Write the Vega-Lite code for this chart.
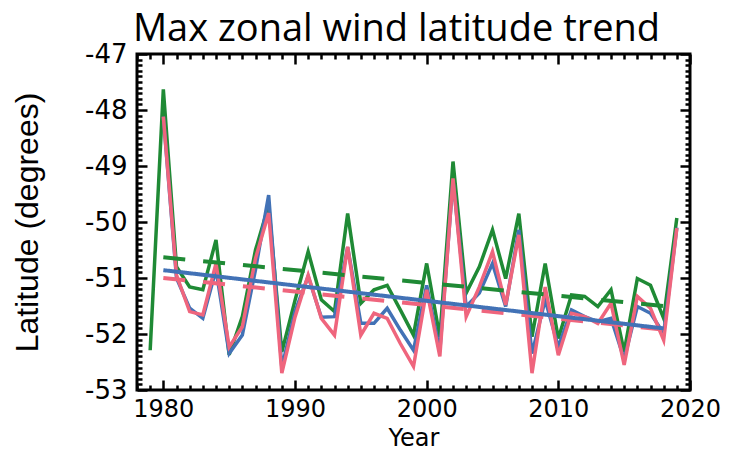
{
  "$schema": "https://vega.github.io/schema/vega-lite/v6.json",
  "width": 553,
  "height": 336,
  "autosize": {"type": "none"},
  "padding": {"left": 137, "top": 54, "right": 45, "bottom": 60},
  "background": "white",
  "title": {"text": "Max zonal wind latitude trend", "font": "Open Sans", "fontSize": 38, "fontWeight": "normal", "color": "black", "dx": -17, "offset": -8},
  "config": {
    "view": {"stroke": "black", "strokeWidth": 3},
    "axis": {"domain": false, "grid": false, "tickColor": "black", "tickWidth": 2.5, "labelColor": "black", "titleColor": "black", "labelOverlap": false, "labelFlush": false}
  },
  "datasets": {
    "lines": [
      {"year": 1979, "lat": -52.29, "series": "S1"},
      {"year": 1980, "lat": -47.63, "series": "S1"},
      {"year": 1981, "lat": -50.8, "series": "S1"},
      {"year": 1982, "lat": -51.16, "series": "S1"},
      {"year": 1983, "lat": -51.21, "series": "S1"},
      {"year": 1984, "lat": -50.32, "series": "S1"},
      {"year": 1985, "lat": -52.37, "series": "S1"},
      {"year": 1986, "lat": -51.69, "series": "S1"},
      {"year": 1987, "lat": -50.5, "series": "S1"},
      {"year": 1988, "lat": -49.7, "series": "S1"},
      {"year": 1989, "lat": -52.32, "series": "S1"},
      {"year": 1990, "lat": -51.4, "series": "S1"},
      {"year": 1991, "lat": -50.53, "series": "S1"},
      {"year": 1992, "lat": -51.39, "series": "S1"},
      {"year": 1993, "lat": -51.6, "series": "S1"},
      {"year": 1994, "lat": -49.85, "series": "S1"},
      {"year": 1995, "lat": -51.45, "series": "S1"},
      {"year": 1996, "lat": -51.21, "series": "S1"},
      {"year": 1997, "lat": -51.13, "series": "S1"},
      {"year": 1998, "lat": -51.57, "series": "S1"},
      {"year": 1999, "lat": -52.02, "series": "S1"},
      {"year": 2000, "lat": -50.74, "series": "S1"},
      {"year": 2001, "lat": -52.05, "series": "S1"},
      {"year": 2002, "lat": -48.92, "series": "S1"},
      {"year": 2003, "lat": -51.27, "series": "S1"},
      {"year": 2004, "lat": -50.8, "series": "S1"},
      {"year": 2005, "lat": -50.14, "series": "S1"},
      {"year": 2006, "lat": -51.01, "series": "S1"},
      {"year": 2007, "lat": -49.85, "series": "S1"},
      {"year": 2008, "lat": -52.05, "series": "S1"},
      {"year": 2009, "lat": -50.74, "series": "S1"},
      {"year": 2010, "lat": -52.08, "series": "S1"},
      {"year": 2011, "lat": -51.3, "series": "S1"},
      {"year": 2012, "lat": -51.33, "series": "S1"},
      {"year": 2013, "lat": -51.51, "series": "S1"},
      {"year": 2014, "lat": -51.21, "series": "S1"},
      {"year": 2015, "lat": -52.32, "series": "S1"},
      {"year": 2016, "lat": -51.01, "series": "S1"},
      {"year": 2017, "lat": -51.13, "series": "S1"},
      {"year": 2018, "lat": -51.72, "series": "S1"},
      {"year": 2019, "lat": -49.93, "series": "S1"},

      {"year": 1980, "lat": -48.12, "series": "S2"},
      {"year": 1981, "lat": -51.0, "series": "S2"},
      {"year": 1982, "lat": -51.54, "series": "S2"},
      {"year": 1983, "lat": -51.72, "series": "S2"},
      {"year": 1984, "lat": -50.85, "series": "S2"},
      {"year": 1985, "lat": -52.35, "series": "S2"},
      {"year": 1986, "lat": -52.02, "series": "S2"},
      {"year": 1987, "lat": -50.85, "series": "S2"},
      {"year": 1988, "lat": -49.52, "series": "S2"},
      {"year": 1989, "lat": -52.6, "series": "S2"},
      {"year": 1990, "lat": -51.6, "series": "S2"},
      {"year": 1991, "lat": -50.97, "series": "S2"},
      {"year": 1992, "lat": -51.7, "series": "S2"},
      {"year": 1993, "lat": -51.69, "series": "S2"},
      {"year": 1994, "lat": -50.45, "series": "S2"},
      {"year": 1995, "lat": -51.81, "series": "S2"},
      {"year": 1996, "lat": -51.81, "series": "S2"},
      {"year": 1997, "lat": -51.54, "series": "S2"},
      {"year": 1998, "lat": -51.93, "series": "S2"},
      {"year": 1999, "lat": -52.29, "series": "S2"},
      {"year": 2000, "lat": -51.13, "series": "S2"},
      {"year": 2001, "lat": -52.3, "series": "S2"},
      {"year": 2002, "lat": -49.25, "series": "S2"},
      {"year": 2003, "lat": -51.51, "series": "S2"},
      {"year": 2004, "lat": -51.27, "series": "S2"},
      {"year": 2005, "lat": -50.74, "series": "S2"},
      {"year": 2006, "lat": -51.51, "series": "S2"},
      {"year": 2007, "lat": -50.14, "series": "S2"},
      {"year": 2008, "lat": -52.35, "series": "S2"},
      {"year": 2009, "lat": -51.39, "series": "S2"},
      {"year": 2010, "lat": -52.23, "series": "S2"},
      {"year": 2011, "lat": -51.57, "series": "S2"},
      {"year": 2012, "lat": -51.69, "series": "S2"},
      {"year": 2013, "lat": -51.78, "series": "S2"},
      {"year": 2014, "lat": -51.72, "series": "S2"},
      {"year": 2015, "lat": -52.45, "series": "S2"},
      {"year": 2016, "lat": -51.51, "series": "S2"},
      {"year": 2017, "lat": -51.63, "series": "S2"},
      {"year": 2018, "lat": -51.99, "series": "S2"},
      {"year": 2019, "lat": -50.1, "series": "S2"},

      {"year": 1980, "lat": -48.12, "series": "S3"},
      {"year": 1981, "lat": -50.95, "series": "S3"},
      {"year": 1982, "lat": -51.6, "series": "S3"},
      {"year": 1983, "lat": -51.66, "series": "S3"},
      {"year": 1984, "lat": -50.74, "series": "S3"},
      {"year": 1985, "lat": -52.23, "series": "S3"},
      {"year": 1986, "lat": -51.87, "series": "S3"},
      {"year": 1987, "lat": -50.65, "series": "S3"},
      {"year": 1988, "lat": -49.84, "series": "S3"},
      {"year": 1989, "lat": -52.7, "series": "S3"},
      {"year": 1990, "lat": -51.7, "series": "S3"},
      {"year": 1991, "lat": -50.95, "series": "S3"},
      {"year": 1992, "lat": -51.72, "series": "S3"},
      {"year": 1993, "lat": -52.02, "series": "S3"},
      {"year": 1994, "lat": -50.44, "series": "S3"},
      {"year": 1995, "lat": -52.02, "series": "S3"},
      {"year": 1996, "lat": -51.63, "series": "S3"},
      {"year": 1997, "lat": -51.72, "series": "S3"},
      {"year": 1998, "lat": -52.17, "series": "S3"},
      {"year": 1999, "lat": -52.58, "series": "S3"},
      {"year": 2000, "lat": -51.21, "series": "S3"},
      {"year": 2001, "lat": -52.4, "series": "S3"},
      {"year": 2002, "lat": -49.22, "series": "S3"},
      {"year": 2003, "lat": -51.69, "series": "S3"},
      {"year": 2004, "lat": -51.16, "series": "S3"},
      {"year": 2005, "lat": -50.53, "series": "S3"},
      {"year": 2006, "lat": -51.48, "series": "S3"},
      {"year": 2007, "lat": -50.23, "series": "S3"},
      {"year": 2008, "lat": -52.7, "series": "S3"},
      {"year": 2009, "lat": -51.16, "series": "S3"},
      {"year": 2010, "lat": -52.38, "series": "S3"},
      {"year": 2011, "lat": -51.63, "series": "S3"},
      {"year": 2012, "lat": -51.69, "series": "S3"},
      {"year": 2013, "lat": -51.81, "series": "S3"},
      {"year": 2014, "lat": -51.45, "series": "S3"},
      {"year": 2015, "lat": -52.55, "series": "S3"},
      {"year": 2016, "lat": -51.33, "series": "S3"},
      {"year": 2017, "lat": -51.54, "series": "S3"},
      {"year": 2018, "lat": -52.11, "series": "S3"},
      {"year": 2019, "lat": -50.11, "series": "S3"}
    ],
    "trends": [
      {"year": 1980, "lat": -50.63, "series": "S1"},
      {"year": 2018, "lat": -51.5, "series": "S1"},
      {"year": 1980, "lat": -51.0, "series": "S3"},
      {"year": 2018, "lat": -51.92, "series": "S3"},
      {"year": 1980, "lat": -50.86, "series": "S2"},
      {"year": 2018, "lat": -51.9, "series": "S2"}
    ]
  },
  "layer": [
    {
      "data": {"name": "lines"},
      "mark": {"type": "line", "strokeWidth": 3.5, "strokeJoin": "miter"},
      "encoding": {
        "x": {
          "field": "year", "type": "quantitative",
          "scale": {"domain": [1978, 2020], "nice": false, "zero": false},
          "axis": {
            "orient": "bottom",
            "values": [1978,1979,1980,1981,1982,1983,1984,1985,1986,1987,1988,1989,1990,1991,1992,1993,1994,1995,1996,1997,1998,1999,2000,2001,2002,2003,2004,2005,2006,2007,2008,2009,2010,2011,2012,2013,2014,2015,2016,2017,2018,2019,2020],
            "format": "d",
            "labelExpr": "datum.value % 10 === 0 ? datum.label : ''",
            "tickSize": {"condition": {"test": "datum.value % 10 === 0", "value": -10}, "value": -5},
            "labelFont": "DejaVu Sans", "labelFontSize": 24, "labelPadding": 17,
            "title": "Year", "titleFont": "DejaVu Sans", "titleFontSize": 24, "titleFontWeight": "normal", "titlePadding": 0
          }
        },
        "y": {
          "field": "lat", "type": "quantitative",
          "scale": {"domain": [-53, -47], "nice": false, "zero": false},
          "axis": {
            "orient": "left",
            "values": [-53,-52.9,-52.8,-52.7,-52.6,-52.5,-52.4,-52.3,-52.2,-52.1,-52,-51.9,-51.8,-51.7,-51.6,-51.5,-51.4,-51.3,-51.2,-51.1,-51,-50.9,-50.8,-50.7,-50.6,-50.5,-50.4,-50.3,-50.2,-50.1,-50,-49.9,-49.8,-49.7,-49.6,-49.5,-49.4,-49.3,-49.2,-49.1,-49,-48.9,-48.8,-48.7,-48.6,-48.5,-48.4,-48.3,-48.2,-48.1,-48,-47.9,-47.8,-47.7,-47.6,-47.5,-47.4,-47.3,-47.2,-47.1,-47],
            "labelExpr": "abs(datum.value - round(datum.value)) < 0.01 ? '-' + format(abs(datum.value), 'd') : ''",
            "tickSize": {"condition": {"test": "abs(datum.value - round(datum.value)) < 0.01", "value": -10}, "value": -5},
            "labelFont": "DejaVu Sans", "labelFontSize": 26, "labelPadding": 20,
            "title": "Latitude (degrees)", "titleFont": "Liberation Sans", "titleFontSize": 32, "titleFontWeight": "normal", "titlePadding": 40
          }
        },
        "color": {
          "field": "series", "type": "nominal",
          "scale": {"domain": ["S1", "S2", "S3"], "range": ["#1f8a35", "#4272b6", "#ef657d"]},
          "legend": null
        }
      }
    },
    {
      "data": {"name": "trends"},
      "mark": {"type": "line", "strokeWidth": 4},
      "encoding": {
        "x": {
          "field": "year", "type": "quantitative",
          "axis": {
            "orient": "top",
            "values": [1978,1979,1980,1981,1982,1983,1984,1985,1986,1987,1988,1989,1990,1991,1992,1993,1994,1995,1996,1997,1998,1999,2000,2001,2002,2003,2004,2005,2006,2007,2008,2009,2010,2011,2012,2013,2014,2015,2016,2017,2018,2019,2020],
            "labels": false, "title": null,
            "tickSize": {"condition": {"test": "datum.value % 10 === 0", "value": -10}, "value": -5}
          }
        },
        "y": {
          "field": "lat", "type": "quantitative",
          "axis": {
            "orient": "right",
            "values": [-53,-52.9,-52.8,-52.7,-52.6,-52.5,-52.4,-52.3,-52.2,-52.1,-52,-51.9,-51.8,-51.7,-51.6,-51.5,-51.4,-51.3,-51.2,-51.1,-51,-50.9,-50.8,-50.7,-50.6,-50.5,-50.4,-50.3,-50.2,-50.1,-50,-49.9,-49.8,-49.7,-49.6,-49.5,-49.4,-49.3,-49.2,-49.1,-49,-48.9,-48.8,-48.7,-48.6,-48.5,-48.4,-48.3,-48.2,-48.1,-48,-47.9,-47.8,-47.7,-47.6,-47.5,-47.4,-47.3,-47.2,-47.1,-47],
            "labels": false, "title": null,
            "tickSize": {"condition": {"test": "abs(datum.value - round(datum.value)) < 0.01", "value": -10}, "value": -5}
          }
        },
        "color": {"field": "series", "type": "nominal", "legend": null},
        "strokeDash": {
          "field": "series", "type": "nominal",
          "scale": {"domain": ["S1", "S2", "S3"], "range": [[22, 18], [1, 0], [22, 18]]},
          "legend": null
        }
      }
    }
  ],
  "resolve": {"axis": {"x": "independent", "y": "independent"}}
}
